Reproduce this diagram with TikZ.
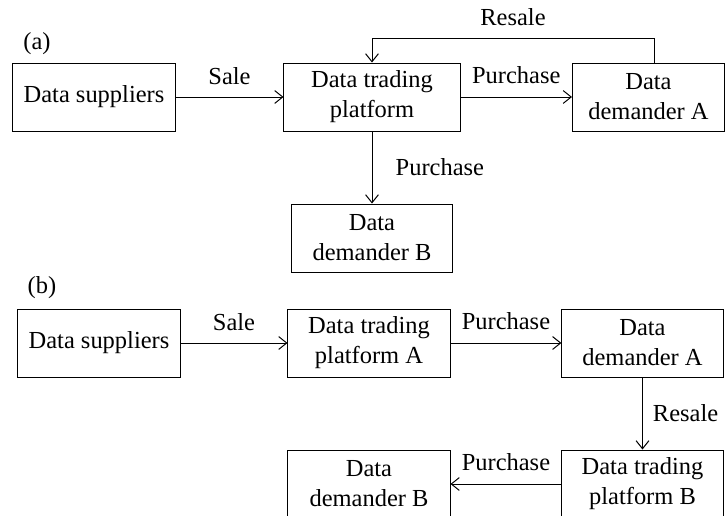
\documentclass[tikz,border=0pt]{standalone}
\usepackage{fontspec}
\setmainfont{Liberation Serif}
\usetikzlibrary{arrows.meta,positioning,calc}

\begin{document}
\begin{tikzpicture}[x=0.025cm,y=-0.025cm,
box/.style={draw,line width=0.7pt,inner sep=0pt,align=center,minimum height=1.7cm,
  font=\fontsize{17.4}{21.3}\selectfont},
lbl/.style={inner sep=0pt,font=\fontsize{17.4}{21.3}\selectfont},
arc/.style={-{Straight Barb[length=2mm,width=3.2mm]},line width=0.7pt}]
\useasboundingbox (0,0) rectangle (725,515);
\clip (0,0) rectangle (725,515);
% (a)
\node[lbl] (tagA) at (37,44) {(a)};
\node[box,minimum width=4.05cm] (sup1) at (94,97) {Data suppliers};
\node[box,minimum width=4.4cm] (plat1) at (372,97) {Data trading\\platform};
\node[box,minimum width=3.8cm] (demA1) at (648.5,97) {Data\\demander A};
\node[box,minimum width=4cm] (demB1) at (372,238) {Data\\demander B};
\coordinate (rtop) at (654,38);
\coordinate (ltop) at (372,38);
\draw[arc] (sup1) -- node[lbl,above=0.3cm] {Sale} (plat1);
\draw[arc] (plat1) -- node[lbl,above=0.33cm] {Purchase} (demA1);
\draw[arc] (plat1) -- node[lbl,right=0.58cm] {Purchase} (demB1);
\draw[arc] (demA1.north -| rtop) -- (rtop) -- node[lbl,above=0.3cm] {Resale} (ltop) -- (plat1.north);
% (b)
\node[lbl] (tagB) at (42,288) {(b)};
\node[box,minimum width=4.05cm] (sup2) at (99,343) {Data suppliers};
\node[box,minimum width=4.05cm] (platA) at (369,343) {Data trading\\platform A};
\node[box,minimum width=4.03cm] (demA2) at (642.5,343) {Data\\demander A};
\node[box,minimum width=4.03cm] (platB) at (642.5,484) {Data trading\\platform B};
\node[box,minimum width=4.05cm] (demB2) at (369,484) {Data\\demander B};
\draw[arc] (sup2) -- node[lbl,above=0.3cm] {Sale} (platA);
\draw[arc] (platA) -- node[lbl,above=0.33cm] {Purchase} (demA2);
\draw[arc] (demA2) -- node[lbl,right=0.25cm] {Resale} (platB);
\draw[arc] (platB) -- node[lbl,above=0.33cm] {Purchase} (demB2);
\end{tikzpicture}
\end{document}
